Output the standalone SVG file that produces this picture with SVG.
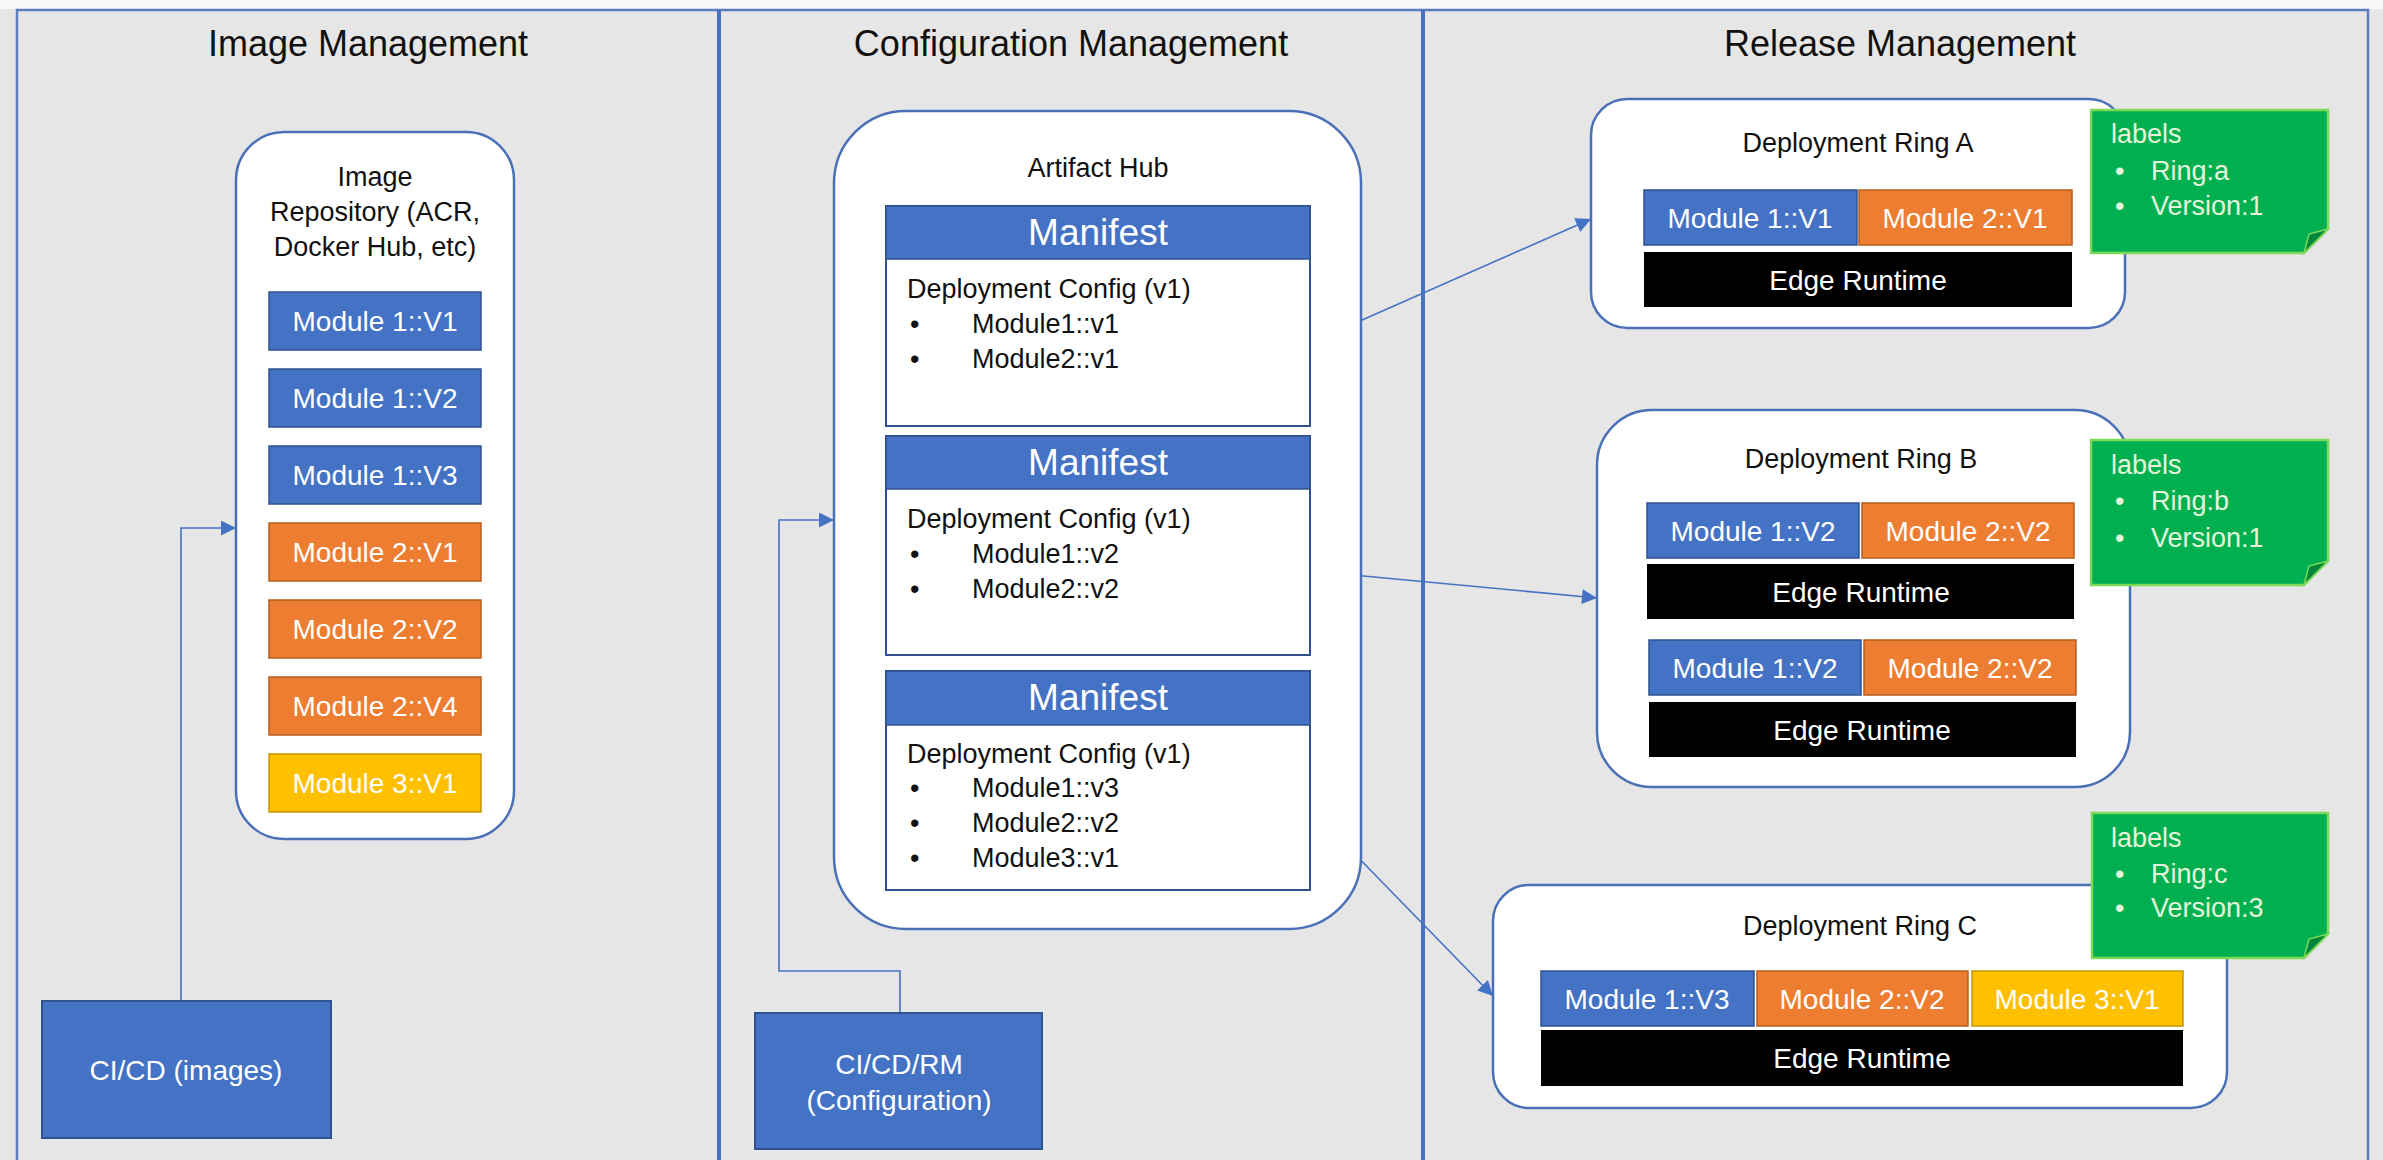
<svg xmlns="http://www.w3.org/2000/svg" width="2383" height="1160" viewBox="0 0 2383 1160">
  <style>
    text { font-family: "Liberation Sans", Arial, sans-serif; }
    .title { font-size: 36px; fill: #111; text-anchor: middle; }
    .dark { font-size: 27px; fill: #111; }
    .mid { text-anchor: middle; }
    .light { font-size: 28px; fill: #ffffff; text-anchor: middle; }
    .manifest-h { font-size: 37px; fill: #ffffff; text-anchor: middle; }
    .note-t { font-size: 27px; fill: #e4f5dc; }
    .container { fill: #ffffff; stroke: #4a70b8; stroke-width: 2.5; }
    .blue { fill: #4472c4; stroke: #2f528f; stroke-width: 1.5; }
    .orange { fill: #ed7d31; stroke: #b85d1f; stroke-width: 1.5; }
    .yellow { fill: #ffc000; stroke: #c79500; stroke-width: 1.5; }
    .runtime { fill: #000000; }
    .mbody { fill: #ffffff; stroke: #2f528f; stroke-width: 2; }
    .ci { fill: #4472c4; stroke: #2f528f; stroke-width: 2; }
    .note { fill: #00b050; stroke: #7ed957; stroke-width: 2.5; }
    .fold { fill: #00853c; stroke: #7ed957; stroke-width: 1.5; }
    .link { fill: none; stroke: #4472c4; stroke-width: 1.6; }
  </style>
  <defs>
    <marker id="arrowL" viewBox="0 0 10 10" refX="10" refY="5" markerWidth="16" markerHeight="15" markerUnits="userSpaceOnUse" orient="auto">
      <path d="M0,0 L10,5 L0,10 Z" fill="#4472c4"/>
    </marker>
  </defs>

  <!-- page background and outer frame -->
  <g id="frame">
    <rect x="0" y="0" width="2383" height="1160" fill="#e7e6e6"/>
    <rect x="0" y="0" width="2383" height="9" fill="#f7f7f7"/>
    <rect x="17" y="10" width="2351" height="1160" fill="none" stroke="#5b7cc0" stroke-width="2.5"/>
    <line x1="719" y1="10" x2="719" y2="1160" stroke="#4472c4" stroke-width="4"/>
    <line x1="1423" y1="10" x2="1423" y2="1160" stroke="#4472c4" stroke-width="4"/>
    <text class="title" x="368" y="56">Image Management</text>
    <text class="title" x="1071" y="56">Configuration Management</text>
    <text class="title" x="1900" y="56">Release Management</text>
  </g>

  <!-- connectors -->
  <g id="connectors">
    <polyline class="link" points="181,1001 181,528 236,528" marker-end="url(#arrowL)"/>
    <polyline class="link" points="900,1013 900,971 779,971 779,520 834,520" marker-end="url(#arrowL)"/>
    <line class="link" x1="1310" y1="343" x2="1591" y2="219" marker-end="url(#arrowL)"/>
    <line class="link" x1="1310" y1="571" x2="1597" y2="598" marker-end="url(#arrowL)"/>
    <line class="link" x1="1310" y1="808" x2="1493" y2="996" marker-end="url(#arrowL)"/>
  </g>

  <!-- image repository -->
  <g id="image-repository">
    <rect class="container" x="236" y="132" width="278" height="707" rx="48" ry="48"/>
    <text class="dark mid" x="375" y="186">Image</text>
    <text class="dark mid" x="375" y="221">Repository (ACR,</text>
    <text class="dark mid" x="375" y="256">Docker Hub, etc)</text>
    <rect class="blue" x="269" y="292" width="212" height="58"/>
    <text class="light" x="375" y="331">Module 1::V1</text>
    <rect class="blue" x="269" y="369" width="212" height="58"/>
    <text class="light" x="375" y="408">Module 1::V2</text>
    <rect class="blue" x="269" y="446" width="212" height="58"/>
    <text class="light" x="375" y="485">Module 1::V3</text>
    <rect class="orange" x="269" y="523" width="212" height="58"/>
    <text class="light" x="375" y="562">Module 2::V1</text>
    <rect class="orange" x="269" y="600" width="212" height="58"/>
    <text class="light" x="375" y="639">Module 2::V2</text>
    <rect class="orange" x="269" y="677" width="212" height="58"/>
    <text class="light" x="375" y="716">Module 2::V4</text>
    <rect class="yellow" x="269" y="754" width="212" height="58"/>
    <text class="light" x="375" y="793">Module 3::V1</text>
  </g>

  <!-- image build pipeline -->
  <g id="ci-cd-images">
    <rect class="ci" x="42" y="1001" width="289" height="137"/>
    <text class="light" x="186" y="1080">CI/CD (images)</text>
  </g>

  <!-- artifact hub with manifests -->
  <g id="artifact-hub">
    <rect class="container" x="834" y="111" width="527" height="818" rx="72" ry="72"/>
    <text class="dark mid" x="1098" y="177">Artifact Hub</text>
  </g>

  <g id="manifest-1">
    <rect class="mbody" x="886" y="206" width="424" height="220"/>
    <rect class="blue" x="886" y="206" width="424" height="53"/>
    <text class="manifest-h" x="1098" y="245">Manifest</text>
    <text class="dark" x="907" y="298">Deployment Config (v1)</text>
    <text class="dark" x="910" y="333">•</text>
    <text class="dark" x="972" y="333">Module1::v1</text>
    <text class="dark" x="910" y="368">•</text>
    <text class="dark" x="972" y="368">Module2::v1</text>
  </g>

  <g id="manifest-2">
    <rect class="mbody" x="886" y="436" width="424" height="219"/>
    <rect class="blue" x="886" y="436" width="424" height="53"/>
    <text class="manifest-h" x="1098" y="475">Manifest</text>
    <text class="dark" x="907" y="528">Deployment Config (v1)</text>
    <text class="dark" x="910" y="563">•</text>
    <text class="dark" x="972" y="563">Module1::v2</text>
    <text class="dark" x="910" y="598">•</text>
    <text class="dark" x="972" y="598">Module2::v2</text>
  </g>

  <g id="manifest-3">
    <rect class="mbody" x="886" y="671" width="424" height="219"/>
    <rect class="blue" x="886" y="671" width="424" height="54"/>
    <text class="manifest-h" x="1098" y="710">Manifest</text>
    <text class="dark" x="907" y="763">Deployment Config (v1)</text>
    <text class="dark" x="910" y="797">•</text>
    <text class="dark" x="972" y="797">Module1::v3</text>
    <text class="dark" x="910" y="832">•</text>
    <text class="dark" x="972" y="832">Module2::v2</text>
    <text class="dark" x="910" y="867">•</text>
    <text class="dark" x="972" y="867">Module3::v1</text>
  </g>

  <!-- configuration pipeline -->
  <g id="ci-cd-rm">
    <rect class="ci" x="755" y="1013" width="287" height="136"/>
    <text class="light" x="899" y="1074">CI/CD/RM</text>
    <text class="light" x="899" y="1110">(Configuration)</text>
  </g>

  <!-- deployment rings -->
  <g id="ring-a">
    <rect class="container" x="1591" y="99" width="534" height="229" rx="36" ry="36"/>
    <text class="dark mid" x="1858" y="152">Deployment Ring A</text>
    <rect class="blue" x="1644" y="190" width="213" height="55"/>
    <text class="light" x="1750" y="228">Module 1::V1</text>
    <rect class="orange" x="1859" y="190" width="213" height="55"/>
    <text class="light" x="1965" y="228">Module 2::V1</text>
    <rect class="runtime" x="1644" y="252" width="428" height="55"/>
    <text class="light" x="1858" y="290">Edge Runtime</text>
  </g>

  <g id="labels-a">
    <path class="note" d="M2091,110 H2328 V229 L2304,253 H2091 Z"/>
    <path class="fold" d="M2304,253 L2328,229 L2309,234 Z"/>
    <text class="note-t" x="2111" y="143">labels</text>
    <text class="note-t" x="2115" y="180">•</text>
    <text class="note-t" x="2151" y="180">Ring:a</text>
    <text class="note-t" x="2115" y="215">•</text>
    <text class="note-t" x="2151" y="215">Version:1</text>
  </g>

  <g id="ring-b">
    <rect class="container" x="1597" y="410" width="533" height="377" rx="55" ry="55"/>
    <text class="dark mid" x="1861" y="468">Deployment Ring B</text>
    <rect class="blue" x="1647" y="503" width="212" height="55"/>
    <text class="light" x="1753" y="541">Module 1::V2</text>
    <rect class="orange" x="1862" y="503" width="212" height="55"/>
    <text class="light" x="1968" y="541">Module 2::V2</text>
    <rect class="runtime" x="1647" y="564" width="427" height="55"/>
    <text class="light" x="1861" y="602">Edge Runtime</text>
    <rect class="blue" x="1649" y="640" width="212" height="55"/>
    <text class="light" x="1755" y="678">Module 1::V2</text>
    <rect class="orange" x="1864" y="640" width="212" height="55"/>
    <text class="light" x="1970" y="678">Module 2::V2</text>
    <rect class="runtime" x="1649" y="702" width="427" height="55"/>
    <text class="light" x="1862" y="740">Edge Runtime</text>
  </g>

  <g id="labels-b">
    <path class="note" d="M2091,440 H2328 V561 L2304,585 H2091 Z"/>
    <path class="fold" d="M2304,585 L2328,561 L2309,566 Z"/>
    <text class="note-t" x="2111" y="474">labels</text>
    <text class="note-t" x="2115" y="510">•</text>
    <text class="note-t" x="2151" y="510">Ring:b</text>
    <text class="note-t" x="2115" y="547">•</text>
    <text class="note-t" x="2151" y="547">Version:1</text>
  </g>

  <g id="ring-c">
    <rect class="container" x="1493" y="885" width="734" height="223" rx="36" ry="36"/>
    <text class="dark mid" x="1860" y="935">Deployment Ring C</text>
    <rect class="blue" x="1541" y="971" width="213" height="55"/>
    <text class="light" x="1647" y="1009">Module 1::V3</text>
    <rect class="orange" x="1757" y="971" width="211" height="55"/>
    <text class="light" x="1862" y="1009">Module 2::V2</text>
    <rect class="yellow" x="1972" y="971" width="211" height="55"/>
    <text class="light" x="2077" y="1009">Module 3::V1</text>
    <rect class="runtime" x="1541" y="1030" width="642" height="56"/>
    <text class="light" x="1862" y="1068">Edge Runtime</text>
  </g>

  <g id="labels-c">
    <path class="note" d="M2092,813 H2328 V934 L2304,958 H2092 Z"/>
    <path class="fold" d="M2304,958 L2328,934 L2309,939 Z"/>
    <text class="note-t" x="2111" y="847">labels</text>
    <text class="note-t" x="2115" y="883">•</text>
    <text class="note-t" x="2151" y="883">Ring:c</text>
    <text class="note-t" x="2115" y="917">•</text>
    <text class="note-t" x="2151" y="917">Version:3</text>
  </g>
</svg>
